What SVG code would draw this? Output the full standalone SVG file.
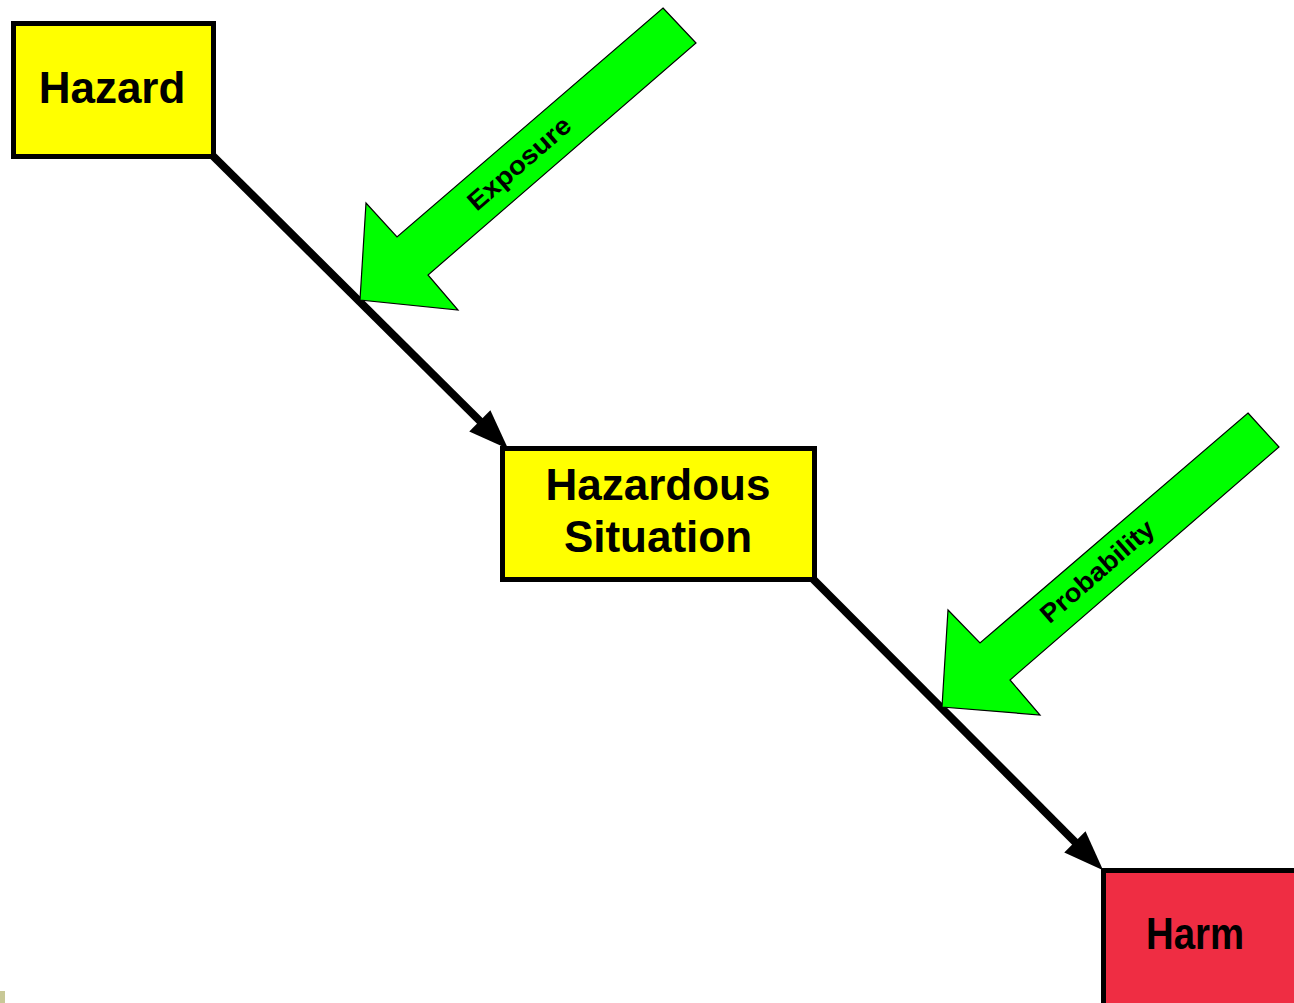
<svg xmlns="http://www.w3.org/2000/svg" width="1294" height="1003" viewBox="0 0 1294 1003">
<style>
.box{stroke:#000;stroke-width:5}
.yellow{fill:#FFFF00}
.red{fill:#EF2D43}
.lbl{font-family:"Liberation Sans",Arial,sans-serif;font-weight:bold;font-size:44px;fill:#000;text-anchor:middle}
.conn{stroke:#000;stroke-width:8;fill:none}
.green{fill:#00FF00;stroke:#000;stroke-width:1.2;stroke-linejoin:miter}
.glbl{font-family:"Liberation Sans",Arial,sans-serif;font-weight:bold;font-size:26px;fill:#000;text-anchor:middle}
</style>
<defs>
<marker id="ah" markerUnits="userSpaceOnUse" markerWidth="44" markerHeight="34" refX="20" refY="15" orient="auto" overflow="visible">
<path d="M0,0 L40,15 L0,30 z" fill="#000"/>
</marker>
</defs>
<rect width="1294" height="1003" fill="#fff"/>
<rect x="0" y="991" width="5" height="12" fill="#C8C896"/>
<g id="connectors">
<path class="conn" d="M212,155 L494,435" marker-end="url(#ah)"/>
<path class="conn" d="M812,578 L1089,856" marker-end="url(#ah)"/>
</g>
<g id="hazard">
<rect class="box yellow" x="13.5" y="23.5" width="200" height="133"/>
<text class="lbl" x="112" y="103">Hazard</text>
</g>
<g id="hazardous-situation">
<rect class="box yellow" x="502.5" y="448.5" width="312" height="131"/>
<text class="lbl" x="658" y="500">Hazardous</text>
<text class="lbl" x="658" y="552">Situation</text>
</g>
<g id="harm">
<rect class="box red" x="1103.5" y="870.5" width="200" height="140"/>
<text class="lbl" x="1195" y="949" textLength="98" lengthAdjust="spacingAndGlyphs">Harm</text>
</g>
<g id="exposure">
<polygon class="green" points="663,8 696,43 428,275 458,310 360,300 366,203 397,237"/>
<text class="glbl" transform="translate(525,170) rotate(-41)" textLength="128" lengthAdjust="spacingAndGlyphs">Exposure</text>
</g>
<g id="probability">
<polygon class="green" points="1248,413 1279,447 1010,680 1040,715 942,707 948,610 980,643"/>
<text class="glbl" transform="translate(1103,578) rotate(-41)" textLength="142" lengthAdjust="spacingAndGlyphs">Probability</text>
</g>
</svg>
